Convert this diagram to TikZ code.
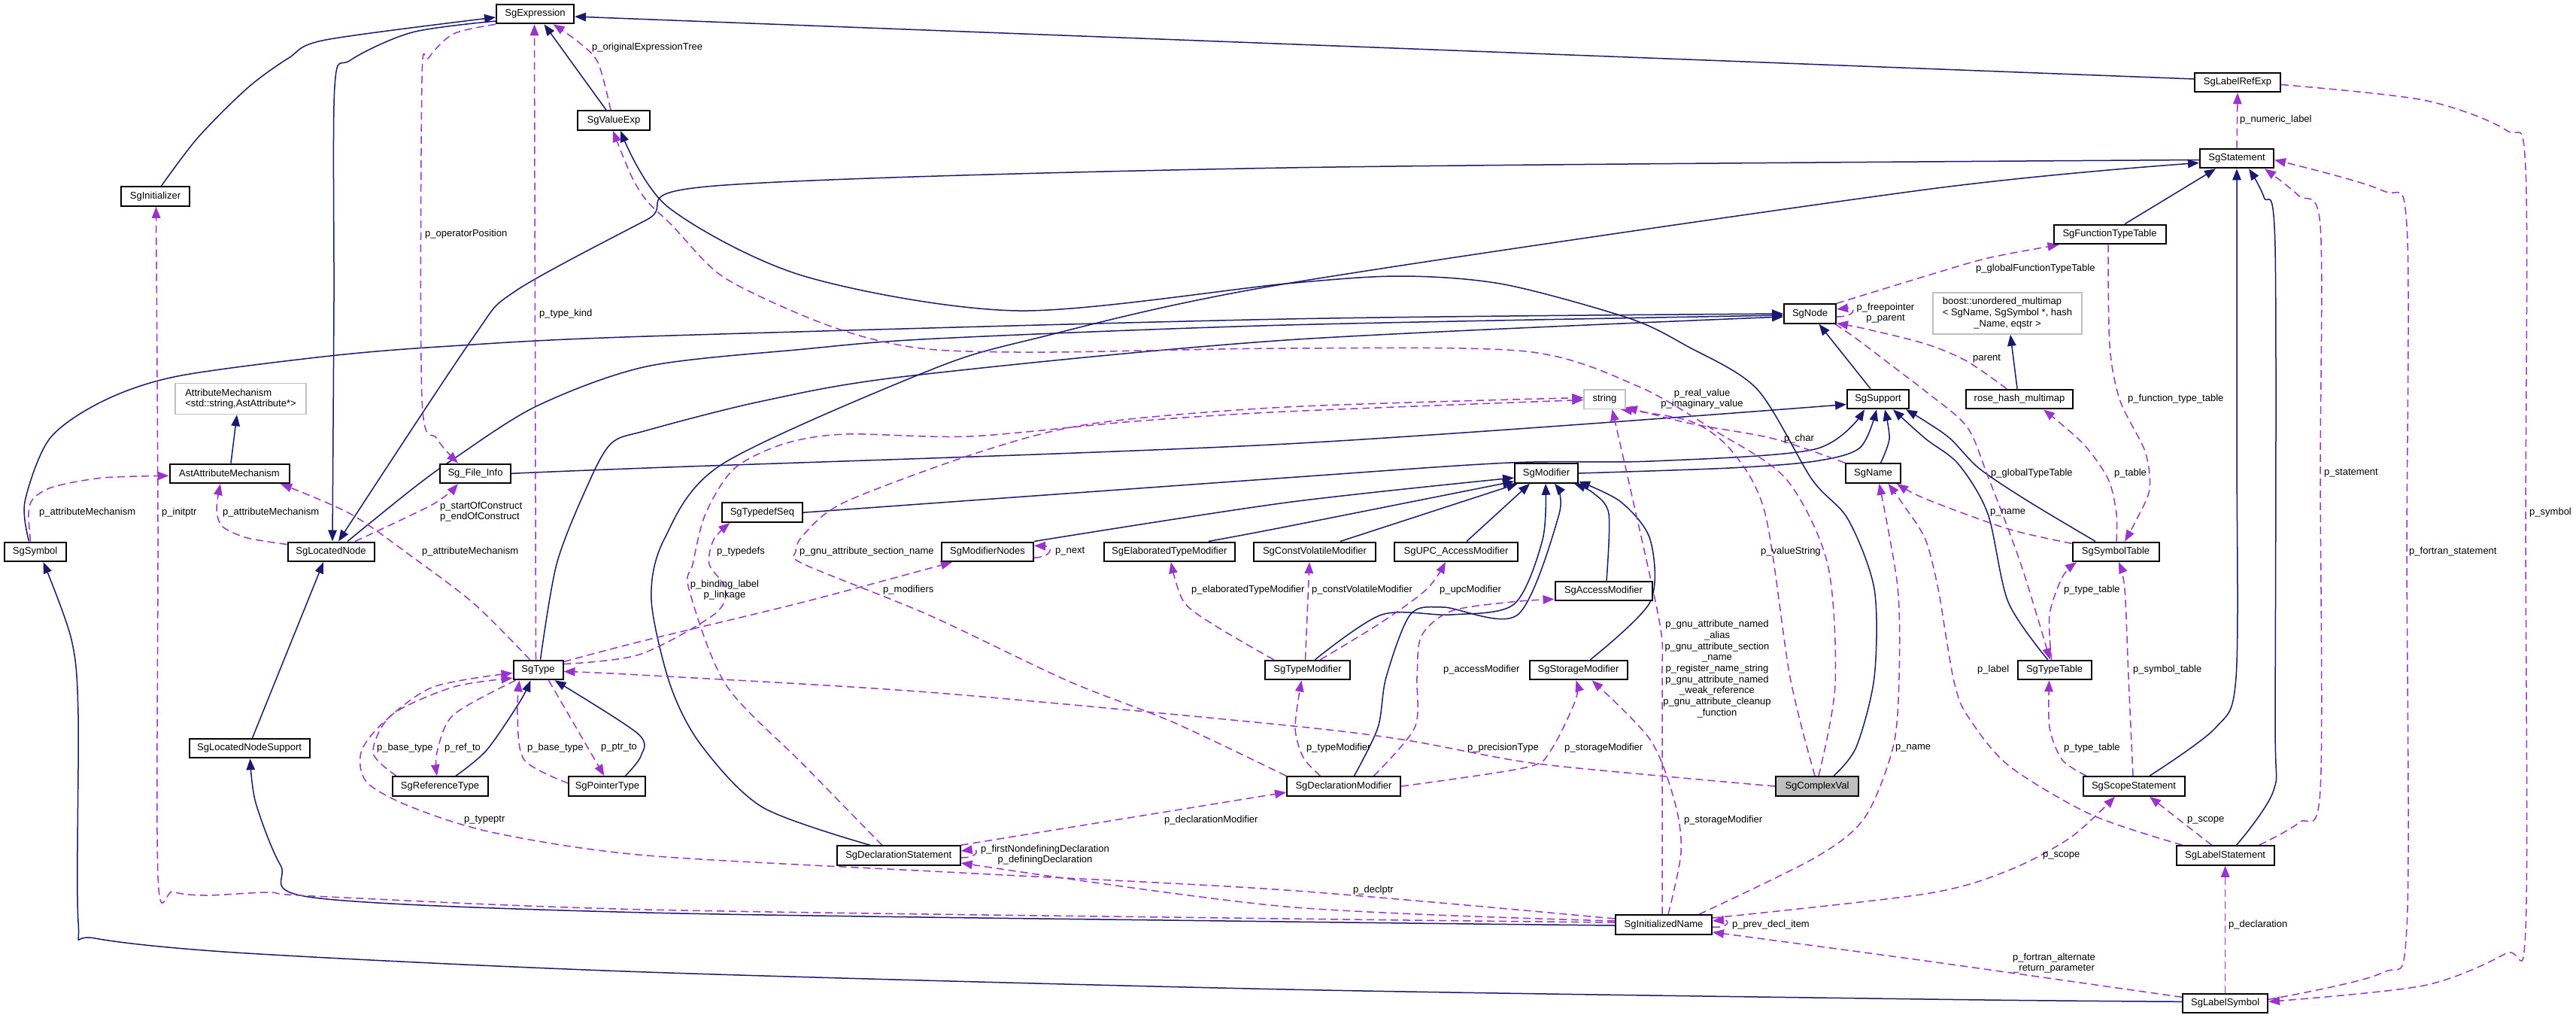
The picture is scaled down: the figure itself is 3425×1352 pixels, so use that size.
\documentclass[tikz,border=0pt]{standalone}
\usepackage{fontspec}
\setmainfont{Liberation Sans}
\usetikzlibrary{arrows.meta,backgrounds}
\definecolor{edgeblue}{HTML}{191970}
\definecolor{edgepurple}{HTML}{9A32CD}
\definecolor{boxgray}{HTML}{BFBFBF}
\newcommand{\dxfont}{\fontsize{13}{14.7}\selectfont}
\tikzset{
 cls/.style={draw=black, line width=2pt, fill=white, minimum height=25.6pt, inner sep=0pt, font=\dxfont},
 gcls/.style={cls, draw=boxgray, line width=1.6pt},
 rcls/.style={cls, fill=boxgray},
 inhedge/.style={draw=edgeblue, line width=1.5pt, -{Triangle[length=15pt,width=11.5pt]}},
 usedge/.style={draw=edgepurple, line width=1.5pt, dash pattern=on 10pt off 6pt, -{Triangle[length=15pt,width=11.5pt]}},
 lbl/.style={inner sep=0pt, anchor=west, font=\dxfont},
 lblc/.style={inner sep=0pt, align=center, font=\dxfont},
}
\begin{document}
\begin{tikzpicture}[x=1pt,y=1pt]
\useasboundingbox (0,0) rectangle (3425,-1352);
% ---------------- nodes
\node[cls,minimum width=103pt] (ex) at (711.5,-18.5) {SgExpression};
\node[cls,minimum width=96pt] (ve) at (816,-160) {SgValueExp};
\node[cls,minimum width=91pt] (ini) at (206.5,-261) {SgInitializer};
\node[cls,minimum width=114pt] (lre) at (2975,-109.5) {SgLabelRefExp};
\node[cls,minimum width=98pt] (st) at (2974,-210.5) {SgStatement};
\node[cls,minimum width=149pt] (ftt) at (2805,-311.5) {SgFunctionTypeTable};
\node[cls,minimum width=69pt] (nd) at (2406.5,-417) {SgNode};
\node[gcls,minimum width=198pt,minimum height=55pt] (bst) at (2669,-416.5) {\begin{tabular}{@{}l@{}}boost::unordered\_multimap\\< SgName, SgSymbol *, hash\\\multicolumn{1}{@{}c@{}}{\_Name, eqstr >}\end{tabular}};
\node[gcls,minimum width=174pt,minimum height=41pt,align=left] (am) at (320,-530) {AttributeMechanism\\<std::string,AstAttribute*>};
\node[gcls,minimum width=55pt] (str) at (2133.5,-530.5) {string};
\node[cls,minimum width=82pt] (sup) at (2497,-530.5) {SgSupport};
\node[cls,minimum width=142pt] (rhm) at (2685,-530.5) {rose\_hash\_multimap};
\node[cls,minimum width=159pt] (aam) at (305,-629.3) {AstAttributeMechanism};
\node[cls,minimum width=94pt] (fi) at (632,-629.3) {Sg\_File\_Info};
\node[cls,minimum width=84pt] (mod) at (2056,-629) {SgModifier};
\node[cls,minimum width=73pt] (nm) at (2490.5,-629) {SgName};
\node[cls,minimum width=107pt] (tds) at (1013.4,-681.2) {SgTypedefSeq};
\node[cls,minimum width=82pt] (sym) at (46.6,-733.3) {SgSymbol};
\node[cls,minimum width=115pt] (ln) at (440,-733.3) {SgLocatedNode};
\node[cls,minimum width=122pt] (mn) at (1313,-733.3) {SgModifierNodes};
\node[cls,minimum width=174pt] (etm) at (1554.8,-733.3) {SgElaboratedTypeModifier};
\node[cls,minimum width=162pt] (cvm) at (1748,-733.3) {SgConstVolatileModifier};
\node[cls,minimum width=164pt] (upc) at (1936,-733.3) {SgUPC\_AccessModifier};
\node[cls,minimum width=115pt] (symt) at (2813,-733.3) {SgSymbolTable};
\node[cls,minimum width=129pt] (acm) at (2132,-785.5) {SgAccessModifier};
\node[cls,minimum width=66pt] (ty) at (715.5,-890.5) {SgType};
\node[cls,minimum width=113pt] (tym) at (1738.5,-890.5) {SgTypeModifier};
\node[cls,minimum width=130pt] (stm) at (2098.5,-890.5) {SgStorageModifier};
\node[cls,minimum width=98pt] (tt) at (2731.6,-890.5) {SgTypeTable};
\node[cls,minimum width=160pt] (lns) at (331.6,-994.5) {SgLocatedNodeSupport};
\node[cls,minimum width=127pt] (rt) at (585,-1045) {SgReferenceType};
\node[cls,minimum width=102pt] (pt) at (807.4,-1045) {SgPointerType};
\node[cls,minimum width=151pt] (dm) at (1786.5,-1045) {SgDeclarationModifier};
\node[rcls,minimum width=110pt] (ce) at (2416,-1045) {SgComplexVal};
\node[cls,minimum width=135pt] (ss) at (2837,-1045) {SgScopeStatement};
\node[cls,minimum width=164pt] (ds) at (1194.7,-1137) {SgDeclarationStatement};
\node[cls,minimum width=130pt] (ls) at (2958.6,-1137) {SgLabelStatement};
\node[cls,minimum width=128pt] (inm) at (2212,-1229) {SgInitializedName};
\node[cls,minimum width=113pt] (lsym) at (2958.6,-1333.3) {SgLabelSymbol};
% ---------------- edges
\begin{pgfonlayer}{background}
\fill[white] (0,0) rectangle (3425,-1352);
% inheritance
\draw[inhedge] plot[smooth] coordinates {([xshift=22pt]ce.north) (2468,-993) (2492,-900) (2492,-783) (2457,-690) (2409,-637) (2336,-517) (2243,-460) (2166,-423) (2000,-378) (1864,-367) (1710,-377) (1354,-413) (1069,-367) (888,-275) ([xshift=9pt]ve.south)};
\draw[inhedge] ([xshift=-10pt]ve.north) -- ([xshift=12pt]ex.south);
\draw[inhedge] plot[smooth] coordinates {([xshift=8pt]ini.north) (263,-183) (329,-117) (384,-77) (433,-53) ([yshift=-4.5pt]ex.west)};
\draw[inhedge] ([yshift=4.5pt]lre.west) -- ([yshift=-3.5pt]ex.east);
\draw[inhedge] plot[smooth] coordinates {([yshift=-9.5pt]ex.west) (548,-43) (466,-80) (445,-115) (444,-400) ([xshift=2pt]ln.north)};
\draw[inhedge] plot[smooth] coordinates {([yshift=-2pt]st.west) (1710,-223) (951,-247) (860,-292) (685,-387) (628,-450) ([xshift=10pt]ln.north)};
\draw[inhedge] plot[smooth] coordinates {([xshift=22pt]ln.north) (548,-650) (603,-610) (713,-540) (860,-487) (1069,-464) (1245,-450) (1710,-432) ([yshift=-2pt]nd.west)};
\draw[inhedge] plot[smooth] coordinates {([xshift=3pt]ty.north) (740,-750) (779,-650) (812,-590) (860,-572) (1014,-533) (1206,-500) (1710,-452) ([yshift=-4pt]nd.west)};
\draw[inhedge] plot[smooth] coordinates {([xshift=-8pt]sym.north) (33,-667) (66,-583) (137,-533) (236,-500) (439,-473) (598,-460) (860,-447) (1710,-424) (nd.west)};
\draw[inhedge] plot[smooth] coordinates {([xshift=-38pt]ds.north) (1014,-1073) (932,-990) (891,-910) (866,-797) (883,-717) (960,-617) (1234,-493) (1376,-450) (1710,-377) (2560,-252) ([yshift=-6pt]st.west)};
\draw[inhedge] ([xshift=20pt]ftt.north) -- ([xshift=-28pt]st.south);
\draw[inhedge] plot[smooth] coordinates {([xshift=21pt]ss.north) (2946,-967) (2973,-900) (2974,-600) (2974,-300) (st.south)};
\draw[inhedge] plot[smooth] coordinates {([xshift=15pt]ls.north) (3023,-1050) (3025,-950) (3025,-330) (3010,-262) ([xshift=16pt]st.south)};
\draw[inhedge] ([xshift=-10pt]sup.north) -- ([xshift=12pt]nd.south);
\draw[inhedge] plot[smooth] coordinates {(fi.east) (860,-622) (1710,-590) ([yshift=-7pt]sup.west)};
\draw[inhedge] plot[smooth] coordinates {(mod.east) (2300,-622) (2413,-613) (2473,-595) ([xshift=-2pt]sup.south)};
\draw[inhedge] plot[smooth] coordinates {(tds.east) (1710,-635) (2007,-615) (2194,-613) (2413,-597) ([xshift=-18pt]sup.south)};
\draw[inhedge] plot[smooth] coordinates {([xshift=10pt]nm.north) (2512,-583) ([xshift=9pt]sup.south)};
\draw[inhedge] plot[smooth] coordinates {([xshift=-27pt]symt.north) (2698,-667) (2632,-623) (2593,-583) (2560,-560) ([xshift=37pt]sup.south)};
\draw[inhedge] plot[smooth] coordinates {([xshift=-9pt]tt.north) (2670,-800) (2643,-683) (2604,-617) (2560,-583) ([xshift=20pt]sup.south)};
\draw[inhedge] plot[smooth] coordinates {(mn.north east) (1710,-668) ([yshift=-6pt]mod.west)};
\draw[inhedge] plot[smooth] coordinates {([xshift=52pt]etm.north) (1710,-700) ([yshift=3pt]mod.south west)};
\draw[inhedge] ([xshift=34pt]cvm.north) -- ([xshift=5pt]mod.south west);
\draw[inhedge] ([xshift=14pt]upc.north) -- ([xshift=-22pt]mod.south);
\draw[inhedge] plot[smooth] coordinates {([xshift=4pt]acm.north) (2139,-683) (2118,-655) ([xshift=-6pt]mod.south east)};
\draw[inhedge] plot[smooth] coordinates {([xshift=16pt]stm.north) (2194,-800) (2194,-717) (2155,-667) ([yshift=3pt]mod.south east)};
\draw[inhedge] plot[smooth] coordinates {([xshift=10pt]tym.north) (1837,-817) (1930,-817) (2013,-803) (2051,-717) ([xshift=-1pt]mod.south)};
\draw[inhedge] plot[smooth] coordinates {([xshift=14pt]dm.north) (1832,-967) (1843,-900) (1875,-817) (1919,-807) (2018,-817) (2073,-683) ([xshift=11pt]mod.south)};
\draw[inhedge] plot[smooth] coordinates {([xshift=21pt]rt.north) (647,-997) (691,-933) ([xshift=-10pt]ty.south)};
\draw[inhedge] plot[smooth] coordinates {([xshift=24pt]pt.north) (852,-1005) (848,-975) ([xshift=22pt]ty.south)};
\draw[inhedge] ([xshift=4pt]lns.north) -- ([xshift=-10pt]ln.south);
\draw[inhedge] plot[smooth] coordinates {([yshift=-1pt]inm.west) (1710,-1225) (860,-1213) (417,-1193) (373,-1150) (340,-1067) ([xshift=1pt]lns.south)};
\draw[inhedge] plot[smooth] coordinates {([yshift=2pt]lsym.west) (2560,-1328) (1710,-1315) (860,-1292) (329,-1267) (126,-1247) (104,-1225) (104,-950) (95,-850) ([xshift=11pt]sym.south)};
\draw[inhedge] ([xshift=2pt]aam.north) -- ([xshift=-5pt]am.south);
\draw[inhedge] ([xshift=-3pt]rhm.north) -- ([xshift=4pt]bst.south);
% usage
\draw[usedge] plot[smooth] coordinates {([xshift=-4pt]ve.north) (795,-83) (768,-55) ([xshift=24pt]ex.south)};
\draw[usedge] plot[smooth] coordinates {(ex.south west) (603,-45) (570,-77) (561,-107) (561,-530) (581,-583) ([xshift=-23pt]fi.north)};
\draw[usedge] ([xshift=-3pt]ty.north) -- ([xshift=-1pt]ex.south);
\draw[usedge] plot[smooth] coordinates {([xshift=32pt]ln.north) (576,-670) ([xshift=-23pt]fi.south)};
\draw[usedge] plot[smooth] coordinates {([xshift=-6pt]sym.north) (38,-683) (44,-663) (71,-647) (137,-635) ([yshift=-3pt]aam.west)};
\draw[usedge] plot[smooth] coordinates {([yshift=-4pt]ln.north west) (329,-715) (296,-700) (288,-677) ([xshift=-12pt]aam.south)};
\draw[usedge] plot[smooth] coordinates {([xshift=-11pt]ty.north) (631,-803) (548,-740) (466,-683) ([xshift=68pt]aam.south)};
\draw[usedge] plot[smooth] coordinates {([yshift=3pt]inm.west) (1710,-1221) (860,-1209) (417,-1191) (357,-1186) (274,-1190) (230,-1185) (210,-1165) (210,-700) ([xshift=1pt]ini.south)};
\draw[usedge] (st.north) -- (lre.south);
\draw[usedge] plot[smooth] coordinates {([yshift=-3pt]lre.east) (3222,-133) (3332,-173) (3358,-225) (3358,-700) (3358,-1235) (3332,-1267) (3222,-1310) ([yshift=2pt]lsym.east)};
\draw[usedge] plot[smooth] coordinates {([yshift=5pt]lsym.east) (3167,-1293) (3200,-1233) (3200,-733) (3200,-300) (3167,-253) ([yshift=-2pt]st.east)};
\draw[usedge] plot[smooth] coordinates {([xshift=45pt]ls.north) (3057,-1093) (3085,-1050) (3085,-629) (3085,-300) (3056,-260) ([xshift=37pt]st.south)};
\draw[usedge] ([yshift=-4pt]nd.east) .. controls (2468,-421) and (2468,-408) .. ([yshift=6pt]nd.east);
\draw[usedge] plot[smooth] coordinates {(nd.north east) (2560,-367) (2643,-343) ([xshift=8pt]ftt.south west)};
\draw[usedge] plot[smooth] coordinates {([xshift=-17pt]rhm.north) (2615,-480) (2560,-457) (2480,-437) ([yshift=1pt]nd.south east)};
\draw[usedge] plot[smooth] coordinates {([xshift=-2pt]nd.south east) (2468,-450) (2530,-497) (2560,-520) (2615,-567) (2643,-633) (2687,-750) ([xshift=-6pt]tt.north)};
\draw[usedge] plot[smooth] coordinates {([xshift=-2pt]ftt.south) (2805,-460) (2819,-533) (2852,-600) (2858,-650) (2841,-690) ([xshift=12pt]symt.north)};
\draw[usedge] plot[smooth] coordinates {([xshift=1pt]symt.north) (2814,-683) (2803,-637) (2770,-590) ([xshift=32pt]rhm.south)};
\draw[usedge] plot[smooth] coordinates {([yshift=11pt]symt.west) (2670,-703) (2560,-663) ([xshift=-6pt]nm.south east)};
\draw[usedge] plot[smooth] coordinates {([xshift=-4pt]tt.north) (2725,-817) (2742,-767) ([xshift=-52pt]symt.south)};
\draw[usedge] plot[smooth] coordinates {([xshift=-1pt]ss.north) (2830,-900) (2825,-783) ([xshift=4pt]symt.south)};
\draw[usedge] plot[smooth] coordinates {([xshift=-63pt]ss.north) (2742,-1010) (2725,-967) ([xshift=-7pt]tt.south)};
\draw[usedge] ([xshift=-18pt]ls.north) -- ([xshift=21pt]ss.south);
\draw[usedge] plot[smooth] coordinates {([yshift=9pt]inm.east) (2560,-1188) (2670,-1157) (2753,-1113) ([xshift=-25pt]ss.south)};
\draw[usedge] plot[smooth] coordinates {([xshift=-57pt]ls.north) (2781,-1083) (2670,-1017) (2615,-950) (2599,-910) (2588,-850) (2577,-783) (2560,-717) (2530,-670) ([xshift=20pt]nm.south)};
\draw[usedge] plot[smooth] coordinates {([xshift=47pt]inm.north) (2413,-1140) (2479,-1087) (2517,-993) (2525,-900) (2523,-780) ([xshift=8pt]nm.south)};
\draw[usedge] (lsym.north) -- (ls.south);
\draw[usedge] plot[smooth] coordinates {([yshift=8pt]lsym.west) (2560,-1277) ([yshift=-10pt]inm.east)};
\draw[usedge] ([yshift=-3pt]inm.east) .. controls (2300,-1234) and (2300,-1222) .. ([yshift=5pt]inm.east);
\draw[usedge] plot[smooth] coordinates {([xshift=6pt]inm.north) (2235,-1133) (2227,-1067) (2194,-983) ([xshift=18pt]stm.south)};
\draw[usedge] plot[smooth] coordinates {([xshift=-2pt]inm.north) (2210,-1100) (2210,-900) (2207,-830) (2170,-660) ([xshift=10pt]str.south)};
\draw[usedge] plot[smooth] coordinates {([xshift=-3pt]ce.north) (2380,-900) (2347,-683) (2303,-600) (2248,-560) ([xshift=-7pt]str.south east)};
\draw[usedge] plot[smooth] coordinates {([xshift=2pt]ce.north) (2440,-910) (2430,-750) (2375,-637) (2281,-573) (2177,-513) (2029,-467) (1710,-463) (1399,-468) (1245,-465) (1157,-450) (1069,-420) (960,-367) (894,-300) (860,-267) (839,-233) ([xshift=-1pt]ve.south)};
\draw[usedge] plot[smooth] coordinates {(nm.north west) (2358,-583) (2248,-563) ([yshift=3pt]str.south east)};
\draw[usedge] plot[smooth] coordinates {(ce.west) (2194,-1030) (2029,-1013) (1865,-983) (1700,-963) (1234,-920) (850,-897) ([yshift=-2pt]ty.east)};
\draw[usedge] (ds.north east) -- ([yshift=-8pt]dm.west);
\draw[usedge] ([yshift=-3pt]ds.east) .. controls (1302,-1140) and (1302,-1128) .. ([yshift=6pt]ds.east);
\draw[usedge] plot[smooth] coordinates {([yshift=5pt]inm.west) (1710,-1205) ([yshift=-10pt]ds.east)};
\draw[usedge] plot[smooth] coordinates {([yshift=8pt]inm.west) (1710,-1183) (1278,-1160) (860,-1137) (658,-1107) (548,-1073) (488,-1040) (480,-1000) (510,-960) (576,-913) ([yshift=-4pt]ty.west)};
\draw[usedge] plot[smooth] coordinates {([xshift=4pt]ty.south west) (603,-950) (581,-1000) ([xshift=-4pt]rt.north)};
\draw[usedge] plot[smooth] coordinates {([xshift=-58pt]rt.north) (496,-1000) (521,-950) (603,-913) ([yshift=3pt]ty.south west)};
\draw[usedge] plot[smooth] coordinates {([yshift=4pt]pt.west) (697,-1010) (688,-950) ([xshift=-25pt]ty.south)};
\draw[usedge] ([xshift=14pt]ty.south) -- ([xshift=-4pt]pt.north);
\draw[usedge] plot[smooth] coordinates {([yshift=8pt]ty.east) (850,-870) (949,-817) (965,-783) (943,-750) (949,-717) ([xshift=-43pt]tds.south)};
\draw[usedge] plot[smooth] coordinates {([yshift=11pt]ty.east) (850,-853) (1069,-800) ([xshift=-47pt]mn.south)};
\draw[usedge] ([yshift=-8pt]mn.east) .. controls (1400,-740) and (1400,-726) .. ([yshift=8pt]mn.east);
\draw[usedge] plot[smooth] coordinates {([xshift=-22pt]ds.north) (1069,-1017) (965,-910) (916,-783) (921,-750) (938,-683) (976,-623) (1042,-590) (1124,-577) (1289,-580) (1508,-560) (1710,-547) ([yshift=-1pt]str.west)};
\draw[usedge] plot[smooth] coordinates {(dm.north west) (1560,-960) (1420,-905) (1234,-817) (1069,-750) (1058,-733) (1069,-710) (1124,-667) (1305,-600) (1453,-563) (1710,-541) ([yshift=2pt]str.west)};
\draw[usedge] plot[smooth] coordinates {([xshift=-45pt]tym.north) (1618,-833) (1574,-800) ([xshift=2pt]etm.south)};
\draw[usedge] ([xshift=-3pt]tym.north) -- ([xshift=-7pt]cvm.south);
\draw[usedge] plot[smooth] coordinates {([xshift=17pt]tym.north) (1837,-827) (1897,-783) ([xshift=-14pt]upc.south)};
\draw[usedge] plot[smooth] coordinates {([xshift=40pt]dm.north) (1881,-967) (1884,-900) (1890,-845) (1930,-812) (2010,-800) ([yshift=3pt]acm.south west)};
\draw[usedge] plot[smooth] coordinates {(dm.east) (2029,-1020) (2062,-997) (2095,-930) ([xshift=-3pt]stm.south)};
\draw[usedge] plot[smooth] coordinates {([xshift=-31pt]dm.north) (1733,-1007) (1722,-967) ([xshift=-8pt]tym.south)};
\end{pgfonlayer}
% ---------------- labels
\node[lbl] (L1) at (787,-63) {p\_originalExpressionTree};
\node[lbl] (L2) at (565,-311) {p\_operatorPosition};
\node[lbl] (L3) at (717,-417) {p\_type\_kind};
\node[lbl,align=left] (L4) at (585,-680) {p\_startOfConstruct\\p\_endOfConstruct};
\node[lbl] (L5) at (52,-681) {p\_attributeMechanism};
\node[lbl] (L6) at (215,-681) {p\_initptr};
\node[lbl] (L7) at (296,-681) {p\_attributeMechanism};
\node[lbl] (L8) at (561,-733) {p\_attributeMechanism};
\node[lbl] (L9) at (953,-733) {p\_typedefs};
\node[lbl] (L10) at (1063,-733) {p\_gnu\_attribute\_section\_name};
\node[lbl] (L11) at (1403,-733) {p\_next};
\node[lblc] (L12) at (963.5,-784) {p\_binding\_label\\p\_linkage};
\node[lbl] (L13) at (1174,-784) {p\_modifiers};
\node[lbl] (L14) at (1584,-784) {p\_elaboratedTypeModifier};
\node[lbl] (L15) at (1744,-784) {p\_constVolatileModifier};
\node[lbl] (L16) at (1914,-784) {p\_upcModifier};
\node[lbl] (L17) at (1919,-890) {p\_accessModifier};
\node[lblc] (L18) at (2283,-889) {p\_gnu\_attribute\_named\\\_alias\\p\_gnu\_attribute\_section\\\_name\\p\_register\_name\_string\\p\_gnu\_attribute\_named\\\_weak\_reference\\p\_gnu\_attribute\_cleanup\\\_function};
\node[lbl] (L19) at (2341,-733) {p\_valueString};
\node[lblc] (L20) at (2263,-530) {p\_real\_value\\p\_imaginary\_value};
\node[lbl] (L21) at (2372,-583) {p\_char};
\node[lblc] (L22) at (2507,-416) {p\_freepointer\\p\_parent};
\node[lbl] (L23) at (2627,-357) {p\_globalFunctionTypeTable};
\node[lbl] (L24) at (2978,-159) {p\_numeric\_label};
\node[lbl] (L25) at (2623,-477) {parent};
\node[lbl] (L26) at (2829,-530) {p\_function\_type\_table};
\node[lbl] (L27) at (2647,-629) {p\_globalTypeTable};
\node[lbl] (L28) at (2811,-629) {p\_table};
\node[lbl] (L29) at (3090,-629) {p\_statement};
\node[lbl] (L30) at (2646,-681) {p\_name};
\node[lbl] (L31) at (3363,-681) {p\_symbol};
\node[lbl] (L32) at (3203,-733) {p\_fortran\_statement};
\node[lbl] (L33) at (2744,-784) {p\_type\_table};
\node[lbl] (L34) at (2629,-890) {p\_label};
\node[lbl] (L35) at (2836,-890) {p\_symbol\_table};
\node[lbl] (L36) at (2744,-994) {p\_type\_table};
\node[lbl] (L37) at (2908,-1090) {p\_scope};
\node[lbl] (L38) at (2716,-1137) {p\_scope};
\node[lbl] (L39) at (2963,-1229) {p\_declaration};
\node[lblc] (L40) at (2731,-1280) {p\_fortran\_alternate\\\_return\_parameter};
\node[lbl] (L41) at (1737,-994) {p\_typeModifier};
\node[lbl] (L42) at (1951,-994) {p\_precisionType};
\node[lbl] (L43) at (2080,-994) {p\_storageModifier};
\node[lbl] (L44) at (2239,-1090) {p\_storageModifier};
\node[lbl] (L45) at (2520,-994) {p\_name};
\node[lbl] (L46) at (1799,-1183) {p\_declptr};
\node[lbl] (L47) at (2303,-1229) {p\_prev\_decl\_item};
\node[lbl] (L48) at (1548,-1090) {p\_declarationModifier};
\node[lblc] (L49) at (1389.5,-1136) {p\_firstNondefiningDeclaration\\p\_definingDeclaration};
\node[lbl] (L50) at (501,-994) {p\_base\_type};
\node[lbl] (L51) at (591,-994) {p\_ref\_to};
\node[lbl] (L52) at (701,-994) {p\_base\_type};
\node[lbl] (L53) at (799,-994) {p\_ptr\_to};
\node[lbl] (L54) at (617,-1090) {p\_typeptr};
\end{tikzpicture}
\end{document}
